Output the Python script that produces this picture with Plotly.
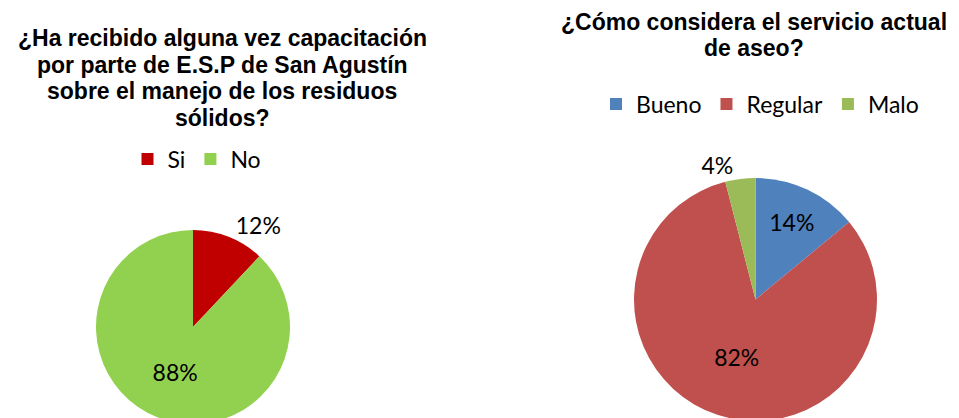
import plotly.graph_objects as go

# the page puts the figure 8px in from the top-left corner of the window
OFF = 8
FW, FH = 959, 440

# Chart 1: capacitación
cap_labels = ["Si", "No"]
cap_values = [12, 88]
cap_colors = ["#C00000", "#92D050"]
cap_title = [
    "¿Ha recibido alguna vez capacitación",
    "por parte de E.S.P de San Agustín",
    "sobre el manejo de los residuos",
    "sólidos?",
]

# Chart 2: servicio de aseo
aseo_labels = ["Bueno", "Regular", "Malo"]
aseo_values = [14, 82, 4]
aseo_colors = ["#4F81BD", "#C0504D", "#9BBB59"]
aseo_title = [
    "¿Cómo considera el servicio actual",
    "de aseo?",
]

label_font = dict(family="Lato, Carlito, sans-serif", size=23, color="black")
title_font = dict(family="Liberation Sans, Arial, sans-serif", size=23, color="black")


def px_x(v):
    return (v - OFF) / FW


def px_y(v):
    return 1 - (v - OFF) / FH


def add_title(fig, lines, cx, first_y, step):
    for i, line in enumerate(lines):
        fig.add_annotation(text="<b>" + line + "</b>", x=px_x(cx), y=px_y(first_y + i * step),
                           xref="paper", yref="paper", xanchor="center", yanchor="middle",
                           showarrow=False, font=title_font)


fig = go.Figure()

# left pie: center (193, 327), r 97 in window pixels
fig.add_trace(go.Pie(
    labels=cap_labels, values=cap_values,
    marker=dict(colors=cap_colors, line=dict(width=0)),
    sort=False, direction="clockwise", rotation=0,
    textinfo="percent", textposition=["outside", "inside"],
    insidetextorientation="horizontal",
    textfont=label_font, insidetextfont=label_font, outsidetextfont=label_font,
    domain=dict(x=[px_x(96), px_x(290)], y=[px_y(424), px_y(230)]),
    legend="legend",
    hoverinfo="label+percent",
))

# right pie: center (755.5, 299.5), r 121.5
fig.add_trace(go.Pie(
    labels=aseo_labels, values=aseo_values,
    marker=dict(colors=aseo_colors, line=dict(width=0)),
    sort=False, direction="clockwise", rotation=0,
    textinfo="percent", textposition=["inside", "inside", "outside"],
    insidetextorientation="horizontal",
    textfont=label_font, insidetextfont=label_font, outsidetextfont=label_font,
    domain=dict(x=[px_x(634), px_x(877)], y=[px_y(421), px_y(178)]),
    legend="legend2",
    hoverinfo="label+percent",
))

add_title(fig, cap_title, 222, 38, 26.5)
add_title(fig, aseo_title, 754, 22, 26)

fig.update_layout(
    width=FW, height=FH,
    margin=dict(l=0, r=0, t=0, b=0),
    paper_bgcolor="white",
    plot_bgcolor="white",
    legend=dict(orientation="h", x=px_x(197), xanchor="center", y=px_y(159), yanchor="middle",
                font=label_font, bgcolor="rgba(0,0,0,0)"),
    legend2=dict(orientation="h", x=px_x(760), xanchor="center", y=px_y(104), yanchor="middle",
                 font=label_font, bgcolor="rgba(0,0,0,0)"),
)

fig.write_html("out.html")
